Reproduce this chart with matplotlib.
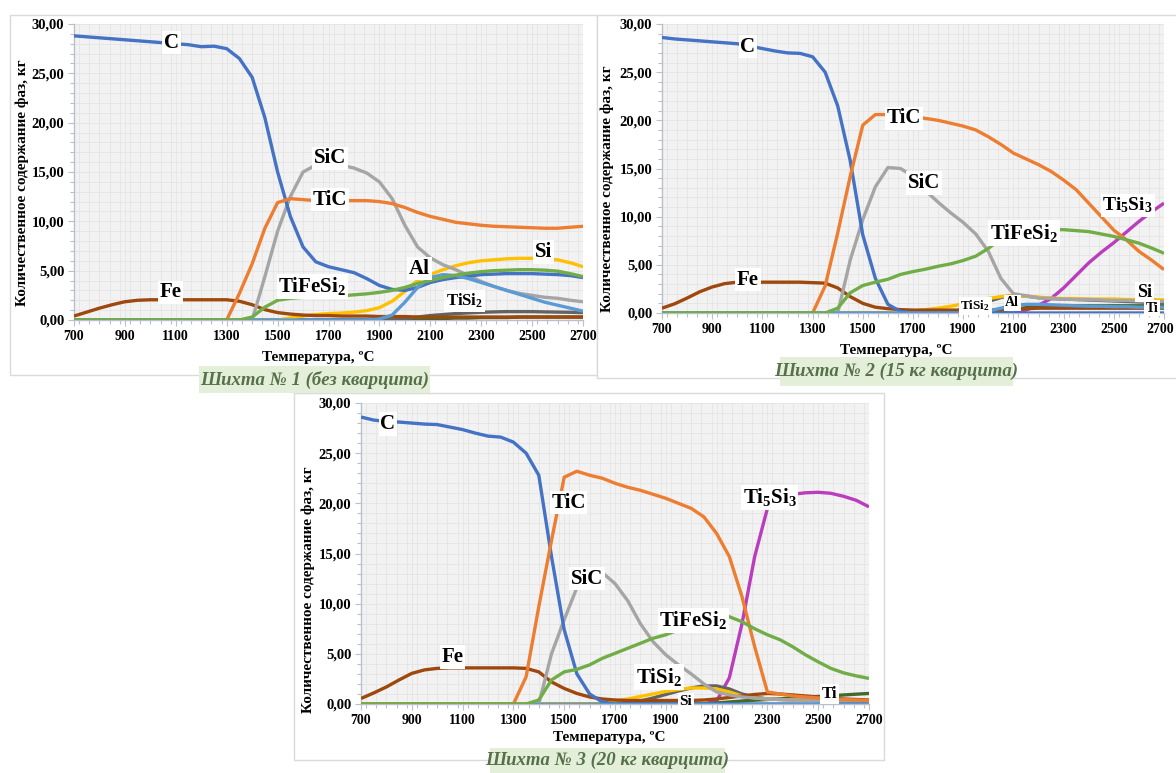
import numpy as np
import matplotlib
matplotlib.use("Agg")
import matplotlib.pyplot as plt
from matplotlib.patches import Rectangle
from matplotlib.ticker import MultipleLocator, FuncFormatter
from matplotlib.transforms import ScaledTranslation

plt.rcParams['font.family'] = ['Liberation Serif', 'DejaVu Serif']
plt.rcParams['mathtext.fontset'] = 'custom'
plt.rcParams['mathtext.rm'] = 'Liberation Serif:bold'
plt.rcParams['mathtext.it'] = 'Liberation Serif:bold'
plt.rcParams['mathtext.bf'] = 'Liberation Serif:bold'

# ---------------- data: phase content, kg, vs temperature ----------------
temps = [700, 750, 800, 850, 900, 950, 1000, 1050, 1100, 1150, 1200, 1250, 1300,
         1350, 1400, 1450, 1500, 1550, 1600, 1650, 1700, 1750, 1800, 1850, 1900,
         1950, 2000, 2050, 2100, 2150, 2200, 2250, 2300, 2350, 2400, 2450, 2500,
         2550, 2600, 2650, 2700]
x_ticks = [700, 900, 1100, 1300, 1500, 1700, 1900, 2100, 2300, 2500, 2700]
y_ticks = [0, 5, 10, 15, 20, 25, 30]

# Charge No. 1 (no quartzite)
c1_C = [28.8, 28.7, 28.6, 28.5, 28.4, 28.3, 28.2, 28.1, 28.0, 27.9, 27.7, 27.75, 27.5,
        26.5, 24.6, 20.5, 15.0, 10.5, 7.4, 5.9, 5.4, 5.1, 4.8, 4.2, 3.5, 3.1,
        3.0, 3.3, 3.8, 4.1, 4.3, 4.45, 4.6, 4.65, 4.7, 4.7, 4.7, 4.65, 4.6, 4.5, 4.3]
c1_TiC = [0, 0, 0, 0, 0, 0, 0, 0, 0, 0, 0, 0, 0,
          2.7, 5.7, 9.3, 11.9, 12.3, 12.2, 12.1, 12.1, 12.1, 12.1, 12.1, 12.0, 11.8,
          11.4, 10.9, 10.5, 10.2, 9.9, 9.75, 9.6, 9.5, 9.45, 9.4, 9.35, 9.3, 9.3, 9.4, 9.5]
c1_SiC = [0, 0, 0, 0, 0, 0, 0, 0, 0, 0, 0, 0, 0, 0, 0,
          4.4, 9.0, 12.5, 15.0, 15.7, 15.8, 15.7, 15.4, 14.9, 14.0, 12.3,
          9.6, 7.4, 6.3, 5.6, 5.1, 4.5, 3.9, 3.4, 3.0, 2.7, 2.5, 2.3, 2.2, 2.0, 1.85]
c1_Si = [0, 0, 0, 0, 0, 0, 0, 0, 0, 0, 0, 0, 0, 0, 0, 0, 0,
         0.2, 0.4, 0.55, 0.65, 0.7, 0.8, 0.95, 1.25, 1.9,
         2.9, 4.0, 4.6, 5.1, 5.5, 5.8, 6.0, 6.1, 6.2, 6.25, 6.25, 6.2, 6.1, 5.8, 5.4]
c1_Al = [0, 0, 0, 0, 0, 0, 0, 0, 0, 0, 0, 0, 0, 0, 0, 0, 0, 0, 0, 0, 0, 0, 0, 0,
         0.1, 0.5, 1.8, 3.3, 4.3, 4.6, 4.5, 4.2, 3.8, 3.4, 3.0, 2.6, 2.2, 1.8, 1.5, 1.2, 0.9]
c1_TiFeSi2 = [0, 0, 0, 0, 0, 0, 0, 0, 0, 0, 0, 0, 0, 0,
              0.3, 1.3, 2.0, 2.2, 2.3, 2.35, 2.4, 2.45, 2.55, 2.65, 2.8, 3.0,
              3.3, 3.7, 4.0, 4.3, 4.55, 4.75, 4.9, 5.0, 5.05, 5.1, 5.1, 5.05, 4.95, 4.7, 4.4]
c1_Fe = [0.4, 0.8, 1.2, 1.55, 1.85, 2.0, 2.05, 2.05, 2.05, 2.05, 2.05, 2.05, 2.05,
         1.9, 1.55, 1.05, 0.75, 0.6, 0.5, 0.45, 0.45, 0.4, 0.4, 0.4, 0.35, 0.35,
         0.35, 0.3, 0.3, 0.3, 0.3, 0.3, 0.3, 0.3, 0.3, 0.3, 0.3, 0.3, 0.3, 0.3, 0.3]
c1_TiSi2 = [0, 0, 0, 0, 0, 0, 0, 0, 0, 0, 0, 0, 0, 0, 0, 0, 0, 0, 0, 0, 0, 0, 0, 0, 0, 0,
            0.15, 0.3, 0.45, 0.55, 0.65, 0.72, 0.78, 0.82, 0.85, 0.85, 0.85, 0.82, 0.8, 0.78, 0.75]
c1_Ti = [0, 0, 0, 0, 0, 0, 0, 0, 0, 0, 0, 0, 0, 0, 0, 0, 0, 0, 0, 0, 0, 0, 0, 0, 0, 0, 0, 0,
         0.1, 0.15, 0.2, 0.2, 0.25, 0.25, 0.25, 0.3, 0.3, 0.3, 0.3, 0.3, 0.3]

# Charge No. 2 (15 kg quartzite)
c2_C = [28.6, 28.45, 28.35, 28.25, 28.15, 28.05, 27.95, 27.7, 27.45, 27.2, 27.0, 26.95, 26.6,
        25.0, 21.5, 15.8, 8.1, 3.6, 0.9, 0.15, 0, 0, 0, 0, 0, 0,
        0, 0, 0, 0, 0, 0, 0, 0, 0, 0, 0, 0, 0, 0, 0]
c2_TiC = [0, 0, 0, 0, 0, 0, 0, 0, 0, 0, 0, 0, 0,
          2.8, 8.3, 14.2, 19.5, 20.6, 20.6, 20.5, 20.35, 20.2, 20.0, 19.7, 19.4, 19.0,
          18.3, 17.5, 16.6, 16.0, 15.4, 14.7, 13.8, 12.8, 11.4, 10.0, 8.6, 7.6, 6.4, 5.5, 4.5]
c2_SiC = [0, 0, 0, 0, 0, 0, 0, 0, 0, 0, 0, 0, 0, 0, 0,
          5.5, 9.7, 13.1, 15.1, 15.0, 14.2, 12.7, 11.5, 10.4, 9.4, 8.2,
          6.4, 3.6, 2.0, 1.8, 1.55, 1.5, 1.45, 1.4, 1.4, 1.35, 1.3, 1.3, 1.25, 1.2, 1.2]
c2_TiFeSi2 = [0, 0, 0, 0, 0, 0, 0, 0, 0, 0, 0, 0, 0, 0,
              0.5, 2.1, 2.85, 3.2, 3.5, 4.0, 4.3, 4.55, 4.85, 5.1, 5.45, 5.9,
              6.7, 7.7, 8.3, 8.6, 8.7, 8.65, 8.65, 8.55, 8.45, 8.2, 7.95, 7.6, 7.25, 6.75, 6.2]
c2_Ti5Si3 = [0, 0, 0, 0, 0, 0, 0, 0, 0, 0, 0, 0, 0, 0, 0, 0, 0, 0, 0, 0, 0, 0, 0, 0, 0, 0,
             0, 0, 0, 0.3, 0.8, 1.5, 2.6, 3.9, 5.2, 6.3, 7.3, 8.4, 9.5, 10.5, 11.4]
c2_Fe = [0.5, 0.95, 1.55, 2.2, 2.7, 3.05, 3.2, 3.2, 3.2, 3.2, 3.2, 3.2, 3.15,
         3.1, 2.6, 1.7, 1.0, 0.6, 0.45, 0.35, 0.3, 0.3, 0.3, 0.3, 0.3, 0.3,
         0.3, 0.35, 0.4, 0.45, 0.5, 0.5, 0.5, 0.5, 0.5, 0.5, 0.5, 0.5, 0.5, 0.5, 0.5]
c2_Si = [0, 0, 0, 0, 0, 0, 0, 0, 0, 0, 0, 0, 0, 0, 0, 0, 0, 0, 0,
         0.05, 0.2, 0.35, 0.5, 0.7, 0.95, 1.2,
         1.5, 1.7, 1.8, 1.75, 1.65, 1.55, 1.5, 1.5, 1.45, 1.45, 1.45, 1.4, 1.4, 1.4, 1.35]
c2_TiSi2 = [0, 0, 0, 0, 0, 0, 0, 0, 0, 0, 0, 0, 0, 0, 0, 0, 0, 0, 0, 0, 0, 0, 0,
            0.1, 0.4, 0.8, 1.2, 1.6, 1.85, 1.75, 1.6, 1.5, 1.45, 1.4, 1.35, 1.3, 1.25, 1.2, 1.15, 1.1, 1.1]
c2_Al = [0, 0, 0, 0, 0, 0, 0, 0, 0, 0, 0, 0, 0, 0, 0, 0, 0, 0, 0, 0, 0, 0, 0, 0, 0, 0,
         0.2, 0.5, 0.8, 0.9, 0.9, 0.85, 0.8, 0.75, 0.7, 0.7, 0.65, 0.65, 0.6, 0.6, 0.6]
c2_Ti = [0, 0, 0, 0, 0, 0, 0, 0, 0, 0, 0, 0, 0, 0, 0, 0, 0, 0, 0, 0, 0, 0, 0, 0, 0, 0,
         0.1, 0.25, 0.4, 0.55, 0.65, 0.7, 0.75, 0.75, 0.75, 0.75, 0.75, 0.75, 0.75, 0.75, 0.75]

# Charge No. 3 (20 kg quartzite)
c3_C = [28.6, 28.3, 28.15, 28.1, 28.0, 27.9, 27.85, 27.6, 27.35, 27.0, 26.7, 26.6, 26.1,
        25.0, 22.8, 14.7, 7.4, 3.0, 1.0, 0.2, 0, 0, 0, 0, 0, 0,
        0, 0, 0, 0, 0, 0, 0, 0, 0, 0, 0, 0, 0, 0, 0]
c3_TiC = [0, 0, 0, 0, 0, 0, 0, 0, 0, 0, 0, 0, 0,
          2.7, 9.7, 16.3, 22.6, 23.2, 22.8, 22.5, 22.0, 21.6, 21.3, 20.9, 20.5, 20.0,
          19.5, 18.65, 17.0, 14.7, 10.7, 5.7, 1.2, 1.0, 0.8, 0.7, 0.6, 0.5, 0.45, 0.4, 0.35]
c3_SiC = [0, 0, 0, 0, 0, 0, 0, 0, 0, 0, 0, 0, 0, 0, 0,
          5.0, 8.4, 11.6, 12.6, 13.1, 12.0, 10.3, 8.0, 6.2, 4.9, 3.9,
          3.0, 2.0, 1.2, 0.9, 0.7, 0.6, 0.5, 0.45, 0.4, 0.4, 0.35, 0.35, 0.3, 0.3, 0.3]
c3_TiFeSi2 = [0, 0, 0, 0, 0, 0, 0, 0, 0, 0, 0, 0, 0, 0,
              0.4, 2.4, 3.2, 3.45, 3.9, 4.55, 5.05, 5.55, 6.05, 6.55, 6.9, 7.4,
              7.9, 8.4, 8.7, 8.7, 8.2, 7.5, 6.9, 6.4, 5.7, 4.9, 4.2, 3.55, 3.1, 2.8, 2.55]
c3_Ti5Si3 = [0, 0, 0, 0, 0, 0, 0, 0, 0, 0, 0, 0, 0, 0, 0, 0, 0, 0, 0, 0, 0, 0, 0, 0, 0, 0,
             0, 0, 0.3, 2.6, 8.0, 14.7, 19.5, 20.6, 20.9, 21.05, 21.1, 21.0, 20.7, 20.3, 19.65]
c3_Fe = [0.55, 1.1, 1.7, 2.4, 3.05, 3.4, 3.55, 3.6, 3.6, 3.6, 3.6, 3.6, 3.6,
         3.55, 3.2, 2.2, 1.55, 1.05, 0.7, 0.5, 0.4, 0.35, 0.35, 0.35, 0.35, 0.35,
         0.35, 0.4, 0.5, 0.65, 0.8, 0.95, 1.05, 1.0, 0.9, 0.8, 0.7, 0.6, 0.5, 0.45, 0.4]
c3_TiSi2 = [0, 0, 0, 0, 0, 0, 0, 0, 0, 0, 0, 0, 0, 0, 0, 0, 0, 0, 0, 0, 0, 0,
            0.3, 0.6, 0.95, 1.3, 1.6, 1.8, 1.8, 1.5, 1.0, 0.7, 0.5, 0.45, 0.4, 0.4, 0.35, 0.35, 0.3, 0.3, 0.3]
c3_Si = [0, 0, 0, 0, 0, 0, 0, 0, 0, 0, 0, 0, 0, 0, 0, 0, 0, 0, 0, 0,
         0.3, 0.5, 0.75, 1.0, 1.25, 1.45, 1.6, 1.6, 1.5, 1.2, 0.8, 0.6, 0.5, 0.45, 0.4, 0.4,
         0.35, 0.35, 0.3, 0.3, 0.3]
c3_Ti = [0, 0, 0, 0, 0, 0, 0, 0, 0, 0, 0, 0, 0, 0, 0, 0, 0, 0, 0, 0, 0, 0, 0, 0, 0, 0, 0, 0,
         0.1, 0.2, 0.3, 0.38, 0.45, 0.52, 0.6, 0.68, 0.75, 0.82, 0.9, 0.98, 1.05]
c3_Al = [0, 0, 0, 0, 0, 0, 0, 0, 0, 0, 0, 0, 0, 0, 0, 0, 0, 0, 0, 0, 0, 0, 0, 0, 0, 0,
         0, 0, 0, 0, 0, 0, 0, 0, 0, 0, 0, 0, 0, 0, 0]

# ---------------- styling ----------------
COLORS = {
    'C': '#4472C4', 'TiC': '#ED7D31', 'SiC': '#A5A5A5', 'Si': '#FFC000',
    'Al': '#5B9BD5', 'TiFeSi2': '#70AD47', 'Fe': '#9E480E', 'TiSi2': '#636363',
    'Ti': '#43682B', 'Ti5Si3': '#B93DBC',
}
# series with long zero stretches go first so the baseline shows the later ones
DRAW_ORDER = ['Ti5Si3', 'Ti', 'TiSi2', 'Si', 'Fe', 'SiC', 'C', 'TiC', 'Al', 'TiFeSi2']

W, H = 1176, 773
fig = plt.figure(figsize=(W / 100, H / 100), dpi=100)
fig.patch.set_facecolor('white')


def fx(px):
    return px / W


def fy(py):
    return 1 - py / H


def frame(l, t, r, b, z=-10):
    fig.add_artist(Rectangle((fx(l), fy(b)), fx(r) - fx(l), fy(t) - fy(b),
                             transform=fig.transFigure, facecolor='white',
                             edgecolor='#dadada', lw=1.0, zorder=z))


def caption(l, t, r, b, text):
    fig.add_artist(Rectangle((fx(l), fy(b)), fx(r) - fx(l), fy(t) - fy(b),
                             transform=fig.transFigure, facecolor='#e3efd9',
                             edgecolor='none', zorder=5))
    fig.text(fx((l + r) / 2), fy((t + b) / 2), text, ha='center', va='center',
             fontsize=13.5, fontweight='bold', style='italic', color='#56704a',
             zorder=6)


def panel(box, series, labels, xlab_pos, ylab_pos, last_xlabel_shift=0):
    l, t, r, b = box
    ax = fig.add_axes([fx(l), fy(b), fx(r) - fx(l), fy(t) - fy(b)])
    ax.set_facecolor('#f2f2f2')
    ax.set_xlim(x_ticks[0], x_ticks[-1])
    ax.set_ylim(y_ticks[0], y_ticks[-1])
    ax.set_xticks(x_ticks)
    ax.set_yticks(y_ticks)
    ax.xaxis.set_minor_locator(MultipleLocator(40))
    ax.yaxis.set_minor_locator(MultipleLocator(1))
    ax.yaxis.set_major_formatter(FuncFormatter(lambda v, p: f"{v:.2f}".replace('.', ',')))
    ax.grid(which='both', color='#e4e4e4', lw=0.6)
    ax.set_axisbelow(True)
    for s in ('top', 'right'):
        ax.spines[s].set_visible(False)
    for s in ('left', 'bottom'):
        ax.spines[s].set_color('#b9c0cc')
        ax.spines[s].set_linewidth(1.0)
    ax.tick_params(which='both', direction='out', color='#b9c0cc', width=0.8)
    ax.tick_params(which='major', length=4, pad=3)
    ax.tick_params(axis='y', which='major', labelsize=10.5)
    ax.tick_params(axis='x', which='major', labelsize=10)
    ax.tick_params(which='minor', length=3)
    for lab in ax.get_xticklabels() + ax.get_yticklabels():
        lab.set_fontweight('bold')
    if last_xlabel_shift:
        lab = ax.get_xticklabels()[-1]
        lab.set_transform(lab.get_transform() +
                          ScaledTranslation(last_xlabel_shift / 100, 0, fig.dpi_scale_trans))

    for z, name in enumerate(DRAW_ORDER):
        if name in series:
            ax.plot(temps, series[name], color=COLORS[name], lw=2.4,
                    solid_joinstyle='round', solid_capstyle='butt', zorder=3 + z * 0.1)

    for text, x, y, size in labels:
        ax.text(x, y, text, ha='center', va='center', fontsize=size,
                fontweight='bold', color='black', zorder=10,
                bbox=dict(facecolor='white', edgecolor='none', pad=1.2))

    fig.text(fx(xlab_pos[0]), fy(xlab_pos[1]), 'Температура, ºС', ha='center',
             va='center', fontsize=11, fontweight='bold')
    fig.text(fx(ylab_pos[0]), fy(ylab_pos[1]), 'Количественное содержание фаз, кг',
             ha='center', va='center', rotation=90, fontsize=11, fontweight='bold')
    return ax


# panel frames
frame(10, 15, 597, 375)
frame(597, 15, 1180, 378)
frame(294, 393, 884, 760)

# Charge 1
panel((74, 24, 583, 320),
      {'C': c1_C, 'TiC': c1_TiC, 'SiC': c1_SiC, 'Si': c1_Si, 'Al': c1_Al,
       'TiFeSi2': c1_TiFeSi2, 'Fe': c1_Fe, 'TiSi2': c1_TiSi2, 'Ti': c1_Ti},
      [('C', 1083, 28.1, 15), ('SiC', 1707, 16.4, 15), ('TiC', 1707, 12.2, 15),
       ('Fe', 1078, 2.8, 15), ('TiFeSi$_2$', 1636, 3.4, 15), ('Al', 2057, 5.2, 15),
       ('Si', 2545, 6.9, 15), ('TiSi$_2$', 2235, 1.9, 12)],
      (318, 358), (22, 183))

# Charge 2
panel((662, 24, 1164, 313),
      {'C': c2_C, 'TiC': c2_TiC, 'SiC': c2_SiC, 'TiFeSi2': c2_TiFeSi2,
       'Ti5Si3': c2_Ti5Si3, 'Fe': c2_Fe, 'Si': c2_Si, 'TiSi2': c2_TiSi2,
       'Al': c2_Al, 'Ti': c2_Ti},
      [('C', 1042, 27.65, 15), ('TiC', 1663, 20.2, 15), ('SiC', 1743, 13.5, 15),
       ('Ti$_5$Si$_3$', 2555, 11.2, 14), ('TiFeSi$_2$', 2143, 8.3, 15),
       ('Fe', 1042, 3.45, 15), ('Si', 2622, 2.15, 13), ('Ti', 2652, 0.5, 10),
       ('TiSi$_2$', 1948, 0.75, 9.5), ('Al', 2095, 1.05, 10)],
      (896, 350), (607, 189), last_xlabel_shift=-4)

# Charge 3
panel((361, 403, 869, 704),
      {'C': c3_C, 'TiC': c3_TiC, 'SiC': c3_SiC, 'TiFeSi2': c3_TiFeSi2,
       'Ti5Si3': c3_Ti5Si3, 'Fe': c3_Fe, 'TiSi2': c3_TiSi2, 'Si': c3_Si,
       'Ti': c3_Ti, 'Al': c3_Al},
      [('C', 805, 27.9, 15), ('TiC', 1517, 20.05, 15), ('SiC', 1590, 12.5, 15),
       ('Ti$_5$Si$_3$', 2309, 20.6, 15), ('TiFeSi$_2$', 2008, 8.35, 15),
       ('Fe', 1061, 4.7, 15), ('TiSi$_2$', 1873, 2.7, 15), ('Si', 1978, 0.25, 11),
       ('Ti', 2545, 1.0, 12)],
      (609, 737), (308, 590))

# captions
caption(199, 366, 430, 393, 'Шихта № 1 (без кварцита)')
caption(780, 357, 1013, 386, 'Шихта № 2 (15 кг кварцита)')
caption(490, 748, 725, 773, 'Шихта № 3 (20 кг кварцита)')

fig.savefig('out.png', dpi=100, facecolor='white')
